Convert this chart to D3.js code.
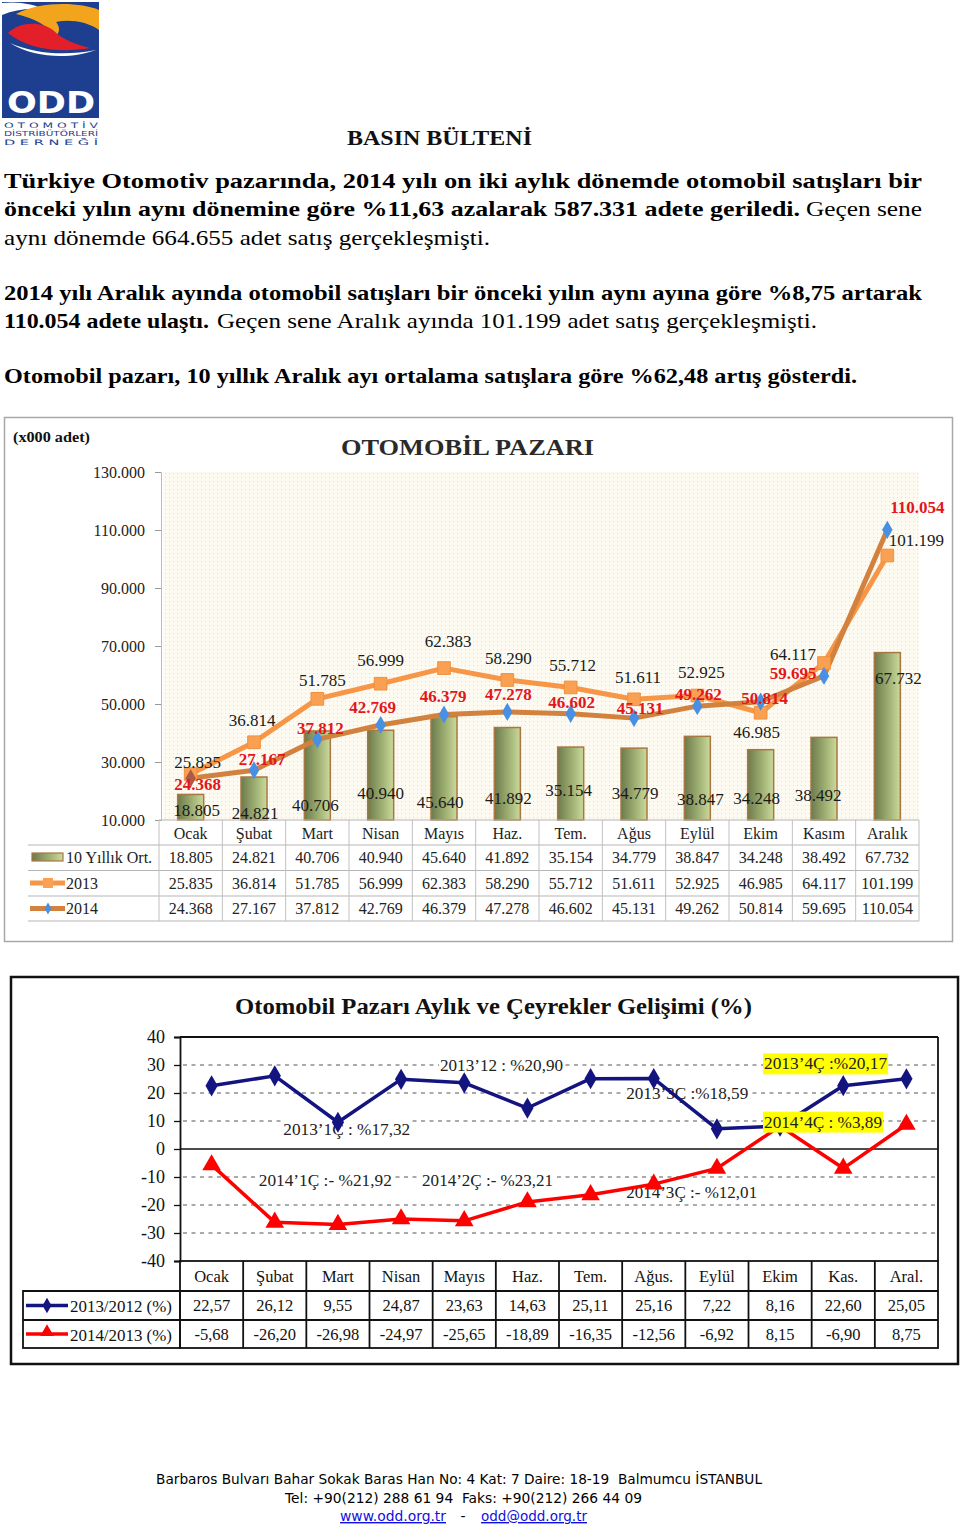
<!DOCTYPE html>
<html><head><meta charset="utf-8">
<script src="https://cdn.jsdelivr.net/npm/d3@7"></script>
<style>body{margin:0;background:#fff}svg{display:block}text{white-space:pre}</style>
</head><body>
<svg id="c" width="960" height="1529"></svg>
<script>
// ---------- DATA ----------
const months1 = ["Ocak","Şubat","Mart","Nisan","Mayıs","Haz.","Tem.","Ağus","Eylül","Ekim","Kasım","Aralık"];
const avg10 = [18805,24821,40706,40940,45640,41892,35154,34779,38847,34248,38492,67732];
const sales2013 = [25835,36814,51785,56999,62383,58290,55712,51611,52925,46985,64117,101199];
const sales2014 = [24368,27167,37812,42769,46379,47278,46602,45131,49262,50814,59695,110054];
const yTicks1 = [10000,30000,50000,70000,90000,110000,130000];
const seriesNames1 = ["10 Yıllık Ort.","2013","2014"];

const months2 = ["Ocak","Şubat","Mart","Nisan","Mayıs","Haz.","Tem.","Ağus.","Eylül","Ekim","Kas.","Aral."];
const chg2013 = [22.57,26.12,9.55,24.87,23.63,14.63,25.11,25.16,7.22,8.16,22.60,25.05];
const chg2014 = [-5.68,-26.20,-26.98,-24.97,-25.65,-18.89,-16.35,-12.56,-6.92,8.15,-6.90,8.75];
const yTicks2 = [-40,-30,-20,-10,0,10,20,30,40];
const seriesNames2 = ["2013/2012 (%)","2014/2013 (%)"];
const quarterNotes = ["2013’1Ç : %17,32","2013’12 : %20,90","2013’3Ç :%18,59","2013’4Ç :%20,17",
                      "2014’1Ç :- %21,92","2014’2Ç :- %23,21","2014’3Ç :- %12,01","2014’4Ç : %3,89"];

// ---------- LAYOUT (not data) ----------
const lab2013 = [[7,-12],[-2,-22],[5,-18],[0,-23],[4,-27],[1,-21],[2,-22],[4,-22],[4,-23],[-4,20],[-31,-9],[29,-15]];
const lab2014 = [[7,6],[8,-11],[3,-11],[-8,-17],[-1,-18],[1,-17],[1,-11],[6,-10],[1,-12],[4,-3],[-31,-2],[30,-22]];
const labAvg  = [[6,-10],[1,-7],[-2,-15],[0,-27],[-4,-18],[1,-22],[-2,-30],[1,-27],[3,-21],[-4,-22],[-6,-25],[11,-142]];
// note positions in [band units, value units], width, highlighted
const notePos = [[2.64,7.1,127,0],[5.09,30,123,0],[8.03,20,122,0],[10.22,30.4,123,1],
                 [2.30,-11.4,133,0],[4.87,-11.4,131,0],[8.10,-15.4,131,0],[10.18,9.6,118,1]];

const SERIF = "'Liberation Serif','DejaVu Serif',serif";
const SANS = "'DejaVu Sans',sans-serif";
const loc = d3.formatLocale({decimal:",",thousands:".",grouping:[3],currency:["",""],minus:"-"});
const fmtK = loc.format(",d");
const fmtP = loc.format(".2f");

const svg = d3.select("#c");
const defs = svg.append("defs");

function T(g, x, y, s, o={}) {
  const t = g.append("text").attr("x", x).attr("y", y).text(s)
    .attr("font-family", o.ff || SERIF).attr("font-size", o.fs || 16)
    .attr("fill", o.fill || "#111");
  if (o.fw) t.attr("font-weight", o.fw);
  if (o.anchor) t.attr("text-anchor", o.anchor);
  if (o.db) t.attr("dominant-baseline", o.db);
  if (o.len) t.attr("textLength", o.len).attr("lengthAdjust", o.adj || "spacingAndGlyphs");
  if (o.deco) t.attr("text-decoration", o.deco);
  return t;
}

// ---------- LOGO ----------
const logo = svg.append("g");
logo.append("rect").attr("x",2).attr("y",2).attr("width",97).attr("height",116).attr("fill","#1e3e90");
logo.append("path").attr("d","M2,3 C18,1 34,4 46,10 C32,8 16,9 2,15 Z").attr("fill","#fff");
logo.append("path").attr("d","M16,14 C40,1 80,2 99,10 L99,30 C88,22 70,19 56,22 C60,27 60,32 56,36 C48,26 34,18 16,14 Z").attr("fill","#f2a51c");
logo.append("path").attr("d","M8,33 C20,21 42,21 54,31 C62,39 74,44 90,48 C62,53 28,50 8,33 Z").attr("fill","#e3202a");
logo.append("path").attr("d","M10,43 C35,54 66,56 96,50 C72,59 36,59 10,43 Z").attr("fill","#fff");
T(logo, 51, 113, "ODD", {ff:SANS, fs:30, fw:"bold", fill:"#fff", anchor:"middle", len:88});
T(logo, 4, 128, "O T O M O T İ V", {ff:SANS, fs:7.5, fill:"#1e3e90", len:94});
T(logo, 4, 136, "DİSTRİBÜTÖRLERİ", {ff:SANS, fs:7, fill:"#1e3e90", len:94});
T(logo, 4, 145, "D E R N E Ğ İ", {ff:SANS, fs:7.5, fill:"#1e3e90", len:94});

// ---------- HEADER TEXT ----------
T(svg, 347, 145, "BASIN BÜLTENİ", {fs:21, fw:"bold", len:185});
const bodyLines = [
  {y:188, parts:[["Türkiye Otomotiv pazarında, 2014 yılı on iki aylık dönemde otomobil satışları bir",1,4,922]]},
  {y:216, parts:[["önceki yılın aynı dönemine göre %11,63 azalarak 587.331 adete geriledi.",1,4,800],["Geçen sene",0,806,922]]},
  {y:245, parts:[["aynı dönemde 664.655 adet satış gerçekleşmişti.",0,4,490]]},
  {y:300, parts:[["2014 yılı Aralık ayında otomobil satışları bir önceki yılın aynı ayına göre %8,75 artarak",1,4,922]]},
  {y:328, parts:[["110.054 adete ulaştı.",1,4,209],["Geçen sene Aralık ayında 101.199 adet satış gerçekleşmişti.",0,217,817]]},
  {y:383, parts:[["Otomobil pazarı, 10 yıllık Aralık ayı ortalama satışlara göre %62,48 artış gösterdi.",1,4,857]]}
];
bodyLines.forEach(l => l.parts.forEach(p => {
  T(svg, p[2], l.y, p[0], {fs:22, fw:p[1] ? "bold" : "normal", len:p[3]-p[2], adj:"spacingAndGlyphs", fill:"#000"});
}));

// ---------- CHART 1 ----------
const c1 = svg.append("g");
c1.append("rect").attr("x",4.5).attr("y",417.5).attr("width",948).attr("height",524)
  .attr("fill","#fff").attr("stroke","#a8a8a8").attr("stroke-width",1.5);

const x1 = d3.scaleBand().domain(months1).range([159,919]);
const y1 = d3.scaleLinear().domain([10000,130000]).range([820,472]);
const cx1 = i => x1(months1[i]) + x1.bandwidth()/2;

const pat = defs.append("pattern").attr("id","dots").attr("width",4).attr("height",4).attr("patternUnits","userSpaceOnUse");
pat.append("rect").attr("width",4).attr("height",4).attr("fill","#fcfaf1");
pat.append("rect").attr("x",1).attr("y",1).attr("width",1).attr("height",1).attr("fill","#e6dfc2");
c1.append("rect").attr("x",x1.range()[0]+4).attr("y",y1.range()[1])
  .attr("width",x1.range()[1]-x1.range()[0]-4).attr("height",y1.range()[0]-y1.range()[1]).attr("fill","url(#dots)");

const barGrad = defs.append("linearGradient").attr("id","barG").attr("x1","0").attr("x2","1").attr("y1","0").attr("y2","0");
barGrad.append("stop").attr("offset","0").attr("stop-color","#6c7a4c");
barGrad.append("stop").attr("offset","0.5").attr("stop-color","#9aab6f");
barGrad.append("stop").attr("offset","1").attr("stop-color","#cbda9c");

// title
T(c1, 13, 442, "(x000 adet)", {fs:14.5, fw:"bold", len:77});
T(c1, 341, 455, "OTOMOBİL PAZARI", {fs:24, fw:"bold", fill:"#2a2a2a", len:253});

// y axis
const ax1 = c1.append("g").attr("transform","translate(161,0)")
  .call(d3.axisLeft(y1).tickValues(yTicks1).tickSize(6).tickPadding(10).tickFormat(fmtK));
ax1.select(".domain").attr("stroke","#bbb");
ax1.selectAll(".tick line").attr("stroke","#999");
ax1.selectAll(".tick text").attr("font-family",SERIF).attr("font-size",16).attr("fill","#222");

// bars
const bw = 26;
c1.selectAll("rect.bar").data(avg10).join("rect").attr("class","bar")
  .attr("x",(d,i)=>cx1(i)-bw/2).attr("y",d=>y1(d)).attr("width",bw).attr("height",d=>y1(10000)-y1(d))
  .attr("fill","url(#barG)").attr("stroke","#a87742").attr("stroke-width",1.5);

// lines
const line1 = d3.line().x((d,i)=>cx1(i)).y(d=>y1(d));
c1.append("path").datum(sales2013).attr("d",line1).attr("fill","none").attr("stroke","#f79646").attr("stroke-width",5).attr("stroke-linejoin","round");
c1.append("path").datum(sales2014).attr("d",line1).attr("fill","none").attr("stroke","#d2823e").attr("stroke-width",5).attr("stroke-linejoin","round");
c1.selectAll("path.sq").data(sales2013).join("path").attr("class","sq")
  .attr("d",d3.symbol(d3.symbolSquare,160)).attr("transform",(d,i)=>`translate(${cx1(i)},${y1(d)})`)
  .attr("fill","#f9a052").attr("stroke","#f0913c").attr("stroke-width",1);
c1.selectAll("path.dm").data(sales2014).join("path").attr("class","dm")
  .attr("d",d3.symbol(d3.symbolDiamond,95)).attr("transform",(d,i)=>`translate(${cx1(i)},${y1(d)})`)
  .attr("fill",(d,i)=> i===0 ? "#b0584a" : "#4a90e2");

// labels
avg10.forEach((d,i)=>T(c1, cx1(i)+labAvg[i][0], y1(10000)+labAvg[i][1], fmtK(d), {fs:17, anchor:"middle", db:"central", fill:"#1a1a1a"}));
sales2013.forEach((d,i)=>T(c1, cx1(i)+lab2013[i][0], y1(d)+lab2013[i][1], fmtK(d), {fs:17, anchor:"middle", db:"central", fill:"#1a1a1a"}));
sales2014.forEach((d,i)=>T(c1, cx1(i)+lab2014[i][0], y1(d)+lab2014[i][1], fmtK(d), {fs:17, fw:"bold", anchor:"middle", db:"central", fill:"#e3161c"}));

// data table
const tRows1 = [845,870.5,896,921];
c1.append("line").attr("x1",x1.range()[0]).attr("x2",x1.range()[1]).attr("y1",820).attr("y2",820).attr("stroke","#b5b5b5");
tRows1.forEach(y=>c1.append("line").attr("x1",28).attr("x2",x1.range()[1]).attr("y1",y).attr("y2",y).attr("stroke","#b5b5b5"));
d3.range(13).forEach(k=>{
  const x = x1.range()[0] + k*x1.step();
  c1.append("line").attr("x1",x).attr("x2",x).attr("y1",820).attr("y2",921).attr("stroke","#c0c0c0");
});
months1.forEach((m,i)=>T(c1, cx1(i), 833, m, {fs:16, anchor:"middle", db:"central", fill:"#222"}));
[avg10, sales2013, sales2014].forEach((arr,r)=>{
  const yc = (tRows1[r]+tRows1[r+1])/2;
  arr.forEach((d,i)=>T(c1, cx1(i), yc, fmtK(d), {fs:16, anchor:"middle", db:"central", fill:"#222"}));
  T(c1, 66, yc, seriesNames1[r], {fs:16, db:"central", fill:"#222"});
});
// legend keys
c1.append("rect").attr("x",32).attr("y",853).attr("width",31).attr("height",8).attr("fill","url(#barG)").attr("stroke","#a87742").attr("stroke-width",1.2);
c1.append("line").attr("x1",30).attr("x2",65).attr("y1",883).attr("y2",883).attr("stroke","#f79646").attr("stroke-width",5);
c1.append("rect").attr("x",43).attr("y",878).attr("width",10).attr("height",10).attr("fill","#f9a052");
c1.append("line").attr("x1",30).attr("x2",65).attr("y1",908.5).attr("y2",908.5).attr("stroke","#d2823e").attr("stroke-width",5);
c1.append("path").attr("d",d3.symbol(d3.symbolDiamond,40)).attr("transform","translate(48,908.5)").attr("fill","#4a90e2");

// ---------- CHART 2 ----------
const c2 = svg.append("g");
c2.append("rect").attr("x",11).attr("y",977).attr("width",947).attr("height",387)
  .attr("fill","#fff").attr("stroke","#111").attr("stroke-width",2.5);
T(c2, 235, 1014, "Otomobil Pazarı Aylık ve Çeyrekler Gelişimi (%)", {fs:23, fw:"bold", len:517});

const x2 = d3.scaleBand().domain(months2).range([180,938]);
const y2 = d3.scaleLinear().domain([-40,40]).range([1261,1037]);
const cx2 = i => x2(months2[i]) + x2.bandwidth()/2;
const xu = d3.scaleLinear().domain([0,12]).range(x2.range());

// dashed grid
yTicks2.filter(v=>v!==0 && Math.abs(v)!==40).forEach(v=>{
  c2.append("line").attr("x1",183).attr("x2",936).attr("y1",y2(v)).attr("y2",y2(v))
    .attr("stroke","#8f8f8f").attr("stroke-width",1.5).attr("stroke-dasharray","4,4.5");
});
// frame lines
c2.append("line").attr("x1",180).attr("x2",938).attr("y1",y2(40)).attr("y2",y2(40)).attr("stroke","#111").attr("stroke-width",1.8);
c2.append("line").attr("x1",180).attr("x2",938).attr("y1",y2(0)).attr("y2",y2(0)).attr("stroke","#111").attr("stroke-width",1.5);
c2.append("line").attr("x1",938).attr("x2",938).attr("y1",y2(40)).attr("y2",y2(-40)).attr("stroke","#111").attr("stroke-width",1.8);

const ax2 = c2.append("g").attr("transform","translate(180,0)")
  .call(d3.axisLeft(y2).tickValues(yTicks2).tickSize(6).tickPadding(9).tickFormat(d=>loc.format("d")(d)));
ax2.select(".domain").attr("stroke","#111").attr("stroke-width",1.8);
ax2.selectAll(".tick line").attr("stroke","#111").attr("stroke-width",1.3);
ax2.selectAll(".tick text").attr("font-family",SERIF).attr("font-size",18).attr("fill","#111");

// note labels (white-background)
function note(i){
  const [u,v,w,hl] = notePos[i];
  const x = xu(u), y = y2(v);
  const g = c2.append("g");
  g.append("rect").attr("x",x-w/2-1).attr("y",y-10.5).attr("width",w+2).attr("height",21)
    .attr("fill", hl ? "#ffff00" : "#fff");
  T(g, x, y, quarterNotes[i], {fs:17, anchor:"middle", db:"central", len:w, fill:"#222"});
}
[0,1,2,4,5,6].forEach(note);

// series lines
const line2 = d3.line().x((d,i)=>cx2(i)).y(d=>y2(d));
c2.append("path").datum(chg2013).attr("d",line2).attr("fill","none").attr("stroke","#141480").attr("stroke-width",3.5).attr("stroke-linejoin","round");
c2.append("path").datum(chg2014).attr("d",line2).attr("fill","none").attr("stroke","#ff0000").attr("stroke-width",3.5).attr("stroke-linejoin","round");
c2.selectAll("path.d2").data(chg2013).join("path").attr("class","d2")
  .attr("d",d3.symbol(d3.symbolDiamond,130)).attr("transform",(d,i)=>`translate(${cx2(i)},${y2(d)})`).attr("fill","#141480");
c2.selectAll("path.t2").data(chg2014).join("path").attr("class","t2")
  .attr("d",d3.symbol(d3.symbolTriangle,150)).attr("transform",(d,i)=>`translate(${cx2(i)},${y2(d)})`).attr("fill","#ff0000");

[3,7].forEach(note);

// table
const tRows2 = [1261,1291,1320,1348];
c2.append("rect").attr("x",180).attr("y",1261).attr("width",758).attr("height",87).attr("fill","none").attr("stroke","#111").attr("stroke-width",1.8);
c2.append("rect").attr("x",23).attr("y",1291).attr("width",157).attr("height",57).attr("fill","none").attr("stroke","#111").attr("stroke-width",1.8);
[1291,1320].forEach(y=>c2.append("line").attr("x1",23).attr("x2",938).attr("y1",y).attr("y2",y).attr("stroke","#111").attr("stroke-width",1.8));
d3.range(1,12).forEach(k=>{
  const x = x2.range()[0] + k*x2.step();
  c2.append("line").attr("x1",x).attr("x2",x).attr("y1",1261).attr("y2",1348).attr("stroke","#111").attr("stroke-width",1.8);
});
months2.forEach((m,i)=>T(c2, cx2(i), 1276.5, m, {fs:16.5, anchor:"middle", db:"central", fill:"#111"}));
[chg2013, chg2014].forEach((arr,r)=>{
  const yc = (tRows2[r+1]+tRows2[r+2])/2;
  arr.forEach((d,i)=>T(c2, cx2(i), yc, fmtP(d), {fs:16.5, anchor:"middle", db:"central", fill:"#111"}));
  T(c2, 70, yc+1, seriesNames2[r], {fs:16.5, db:"central", fill:"#111", len:102});
});
c2.append("line").attr("x1",26).attr("x2",68).attr("y1",1305.5).attr("y2",1305.5).attr("stroke","#141480").attr("stroke-width",3.5);
c2.append("path").attr("d",d3.symbol(d3.symbolDiamond,70)).attr("transform","translate(47,1305.5)").attr("fill","#141480");
c2.append("line").attr("x1",26).attr("x2",68).attr("y1",1334).attr("y2",1334).attr("stroke","#ff0000").attr("stroke-width",3.5);
c2.append("path").attr("d",d3.symbol(d3.symbolTriangle,80)).attr("transform","translate(47,1332)").attr("fill","#ff0000");

// ---------- FOOTER ----------
T(svg, 156, 1484, "Barbaros Bulvarı Bahar Sokak Baras Han No: 4 Kat: 7 Daire: 18-19  Balmumcu İSTANBUL", {ff:SANS, fs:14, len:606, fill:"#000"});
T(svg, 285, 1503, "Tel: +90(212) 288 61 94  Faks: +90(212) 266 44 09", {ff:SANS, fs:14, len:357, fill:"#000"});
T(svg, 340, 1521, "www.odd.org.tr", {ff:SANS, fs:14, len:106, fill:"#1010e0", deco:"underline"});
T(svg, 463, 1521, "-", {ff:SANS, fs:14, fill:"#000", anchor:"middle"});
T(svg, 481, 1521, "odd@odd.org.tr", {ff:SANS, fs:14, len:106, fill:"#1010e0", deco:"underline"});
</script>
</body></html>
